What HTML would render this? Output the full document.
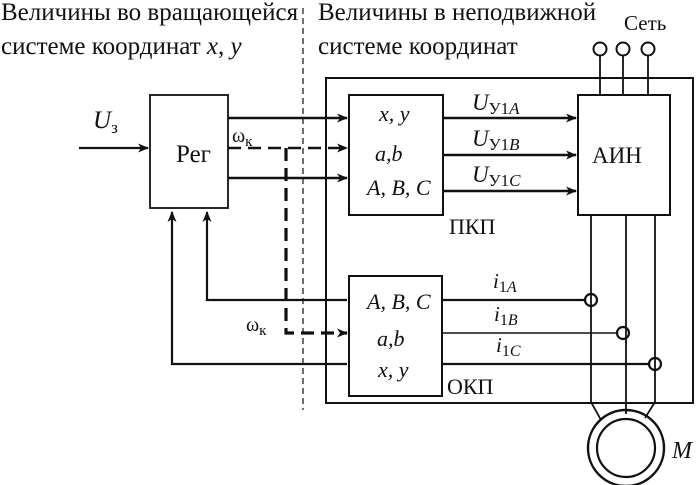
<!DOCTYPE html>
<html><head><meta charset="utf-8"><style>body{margin:0;background:#fff}svg{display:block}text{font-family:"Liberation Serif",serif;fill:#111}</style></head><body>
<svg width="697" height="485" viewBox="0 0 697 485" xmlns="http://www.w3.org/2000/svg">
<defs><marker id="a" markerWidth="11" markerHeight="9" refX="10" refY="4.5" orient="auto" markerUnits="userSpaceOnUse"><path d="M0,0 L11,4.5 L0,9 L3,4.5 Z" fill="#111"/></marker></defs>
<g stroke="#111" fill="none" stroke-width="1.8">
<text x="1" y="20" font-size="25" stroke="none">Величины во вращающейся</text>
<text x="1" y="54" font-size="25" stroke="none">системе координат <tspan font-style="italic">x</tspan>, <tspan font-style="italic">y</tspan></text>
<text x="318" y="20" font-size="25" stroke="none">Величины в неподвижной</text>
<text x="318" y="54" font-size="25" stroke="none">системе координат</text>
<text x="624" y="30" font-size="21" stroke="none">Сеть</text>
<line x1="303" y1="8" x2="303" y2="410" stroke-width="1.2" stroke-dasharray="6,4"/>
<rect x="326" y="78" width="367" height="325" stroke-width="2"/>
<rect x="150" y="95" width="78" height="113"/>
<text x="176" y="162" font-size="25" stroke="none">Рег</text>
<text x="93" y="128" font-size="25" font-style="italic" stroke="none">U<tspan font-size="17" font-style="normal" dy="5">з</tspan></text>
<line x1="79" y1="148" x2="148" y2="148" marker-end="url(#a)" stroke-width="2.2"/>
<rect x="349" y="95" width="94" height="120" stroke-width="2"/>
<text x="379" y="121" font-size="22" font-style="italic" stroke="none">x, y</text>
<text x="375" y="161" font-size="22" font-style="italic" stroke="none">a,b</text>
<text x="367" y="195" font-size="22" font-style="italic" stroke="none">A, B, C</text>
<text x="449" y="234" font-size="22" stroke="none">ПКП</text>
<line x1="228" y1="118" x2="347" y2="118" marker-end="url(#a)" stroke-width="2.4"/>
<line x1="228" y1="148" x2="347" y2="148" marker-end="url(#a)" stroke-width="2.4" stroke-dasharray="13,7"/>
<line x1="228" y1="178" x2="347" y2="178" marker-end="url(#a)" stroke-width="2.4"/>
<text x="232" y="142" font-size="20" stroke="none">ω<tspan font-size="15" dy="4">к</tspan></text>
<rect x="578" y="95" width="92" height="120" stroke-width="2"/>
<text x="592" y="163" font-size="23" stroke="none">АИН</text>
<line x1="443" y1="118" x2="576" y2="118" marker-end="url(#a)" stroke-width="2.4"/>
<line x1="443" y1="155" x2="576" y2="155" marker-end="url(#a)" stroke-width="2.4"/>
<line x1="443" y1="191" x2="576" y2="191" marker-end="url(#a)" stroke-width="2.4"/>
<text x="472" y="110" font-size="23" font-style="italic" stroke="none">U<tspan font-size="17" font-style="normal" dy="4">У1</tspan><tspan font-size="17">A</tspan></text>
<text x="472" y="146" font-size="23" font-style="italic" stroke="none">U<tspan font-size="17" font-style="normal" dy="4">У1</tspan><tspan font-size="17">B</tspan></text>
<text x="472" y="182" font-size="23" font-style="italic" stroke="none">U<tspan font-size="17" font-style="normal" dy="4">У1</tspan><tspan font-size="17">C</tspan></text>
<circle cx="600" cy="49" r="6.5" stroke-width="2"/><circle cx="623" cy="49" r="6.5" stroke-width="2"/><circle cx="648" cy="49" r="6.5" stroke-width="2"/>
<line x1="600" y1="56" x2="600" y2="95"/><line x1="623" y1="56" x2="623" y2="95"/><line x1="648" y1="56" x2="648" y2="95"/>
<rect x="349" y="276" width="93" height="120" stroke-width="2"/>
<text x="367" y="309" font-size="22" font-style="italic" stroke="none">A, B, C</text>
<text x="377" y="346" font-size="22" font-style="italic" stroke="none">a,b</text>
<text x="378" y="377" font-size="22" font-style="italic" stroke="none">x, y</text>
<text x="447" y="394" font-size="22" stroke="none">ОКП</text>
<line x1="442" y1="300" x2="585" y2="300" stroke-width="2.2"/>
<line x1="442" y1="333" x2="617" y2="333" stroke-width="1.4"/>
<line x1="442" y1="364" x2="649" y2="364" stroke-width="2.2"/>
<text x="493" y="288" font-size="21" font-style="italic" stroke="none">i<tspan font-size="16" font-style="normal" dy="4">1</tspan><tspan font-size="16">A</tspan></text>
<text x="494" y="321" font-size="21" font-style="italic" stroke="none">i<tspan font-size="16" font-style="normal" dy="4">1</tspan><tspan font-size="16">B</tspan></text>
<text x="496" y="352" font-size="21" font-style="italic" stroke="none">i<tspan font-size="16" font-style="normal" dy="4">1</tspan><tspan font-size="16">C</tspan></text>
<line x1="591" y1="215" x2="591" y2="402"/><line x1="591" y1="402" x2="601" y2="420"/>
<line x1="626" y1="215" x2="626" y2="414"/>
<line x1="655" y1="215" x2="655" y2="402"/><line x1="655" y1="402" x2="645" y2="418"/>
<circle cx="591" cy="300" r="6" stroke-width="2.2"/><circle cx="623" cy="333" r="6" stroke-width="2.2"/><circle cx="655" cy="364" r="6" stroke-width="2.2"/>
<circle cx="626" cy="448" r="38" stroke-width="2.4"/><circle cx="626" cy="448" r="29" stroke-width="2.2"/>
<text x="672" y="458" font-size="24" font-style="italic" stroke="none">M</text>
<polyline points="347,300 207,300 207,212" stroke-width="2.2" marker-end="url(#a)"/>
<polyline points="347,364 172,364 172,212" stroke-width="2.2" marker-end="url(#a)"/>
<polyline points="286,148 286,333 347,333" stroke-width="3.2" stroke-dasharray="13,7" marker-end="url(#a)"/>
<text x="246" y="331" font-size="20" stroke="none">ω<tspan font-size="15" dy="4">к</tspan></text>
</g></svg></body></html>
